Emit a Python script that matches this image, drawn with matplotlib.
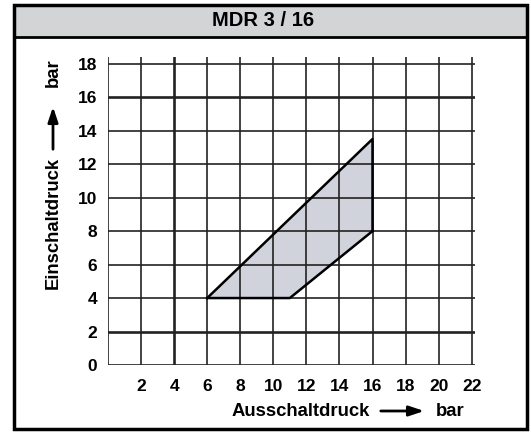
import matplotlib.pyplot as plt
from matplotlib.patches import Rectangle, Polygon

plt.rcParams['font.family'] = ['Liberation Sans', 'DejaVu Sans']
plt.rcParams['font.weight'] = 'bold'

title = 'MDR 3 / 16'
x_label = 'Ausschaltdruck'
y_label = 'Einschaltdruck'
unit = 'bar'

# operating range: Ausschaltdruck (x) vs Einschaltdruck (y)
area_x = [6, 16, 16, 11]
area_y = [4, 13.5, 8, 4]

x_ticks = [2, 4, 6, 8, 10, 12, 14, 16, 18, 20, 22]
y_ticks = [0, 2, 4, 6, 8, 10, 12, 14, 16, 18]
x_grid = [0, 2, 4, 6, 8, 10, 12, 14, 16, 18, 20, 22]
thick_x = [4]
thick_y = [2, 16]

W, H = 531, 434
fig = plt.figure(figsize=(W / 100, H / 100), dpi=100)

def fx(px):
    return px / W

def fy(py):
    return 1 - py / H

# outer frame and title band
fig.patches.append(Rectangle((fx(14), fy(37)), fx(527) - fx(14), fy(5) - fy(37),
                             transform=fig.transFigure, facecolor='#d2d4d6',
                             edgecolor='none', zorder=0))
fig.patches.append(Rectangle((fx(14), fy(429)), fx(527) - fx(14), fy(5) - fy(429),
                             transform=fig.transFigure, facecolor='none',
                             edgecolor='black', linewidth=2.5, zorder=5))
fig.lines.append(plt.Line2D([fx(14), fx(527)], [fy(37), fy(37)],
                            transform=fig.transFigure, color='black', linewidth=2.0))
fig.text(fx(263), fy(21), title, ha='center', va='center', fontsize=14.5, fontweight='bold')

ax = fig.add_axes([fx(108), fy(365), (475 - 108) / W, (365 - 57) / H])
ax.set_xlim(0, 22.2)
ax.set_ylim(0, 18.4)

ax.add_patch(Polygon(list(zip(area_x, area_y)), closed=True, facecolor='#d0d3dc',
                     edgecolor='none', zorder=1))
ax.plot(area_x[:2] + [area_x[1]], area_y[:2] + [area_y[2]], color='black', lw=1.8, zorder=3)
ax.plot(area_x[2:] + [area_x[0]], area_y[2:] + [area_y[0]], color='black', lw=1.8, zorder=3)

for x in x_grid:
    ax.plot([x, x], [0, 18.4], color='#222222', lw=1.9 if x in thick_x else 1.2, zorder=2)
for y in y_ticks:
    ax.plot([0, 22.2], [y, y], color='#222222', lw=1.9 if y in thick_y else 1.2, zorder=2)

for s in ax.spines.values():
    s.set_visible(False)
ax.set_xticks(x_ticks)
ax.set_yticks(y_ticks)
ax.tick_params(length=0, labelsize=12.5, pad=8)
ax.tick_params(axis='x', pad=10)
for lab in ax.get_xticklabels() + ax.get_yticklabels():
    lab.set_fontweight('bold')

# axis titles with arrows
fig.text(fx(301), fy(411), x_label, ha='center', va='center', fontsize=13.3, fontweight='bold')
fig.text(fx(450), fy(411), unit, ha='center', va='center', fontsize=13.3, fontweight='bold')
fig.text(fx(53), fy(223), y_label, ha='center', va='center', rotation=90,
         fontsize=13.3, fontweight='bold')
fig.text(fx(53), fy(73), unit, ha='center', va='center', rotation=90,
         fontsize=13.3, fontweight='bold')
arrow = dict(arrowstyle='-|>,head_length=0.9,head_width=0.3', color='black', lw=2)
ax.annotate('', xy=(fx(427), fy(411)), xytext=(fx(378), fy(411)),
            xycoords='figure fraction', textcoords='figure fraction', arrowprops=arrow)
ax.annotate('', xy=(fx(53), fy(104)), xytext=(fx(53), fy(152)),
            xycoords='figure fraction', textcoords='figure fraction', arrowprops=arrow)

fig.savefig('out.png', dpi=100)
